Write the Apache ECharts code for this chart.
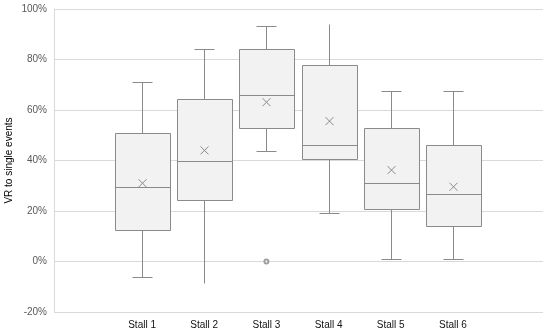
<!DOCTYPE html>
<html>
<head>
<meta charset="utf-8">
<script src="https://cdn.jsdelivr.net/npm/echarts@6/dist/echarts.min.js"></script>
<style>html,body{margin:0;padding:0;background:#fff}#c{width:550px;height:336px}</style>
</head>
<body>
<div id="c"></div>
<script>
const categories = ['Stall 1', 'Stall 2', 'Stall 3', 'Stall 4', 'Stall 5', 'Stall 6'];
const minValues    = [-0.06, -0.085, 0.438, 0.194, 0.009, 0.009];
const q1Values     = [0.124, 0.244, 0.528, 0.407, 0.207, 0.141];
const medianValues = [0.295, 0.397, 0.658, 0.460, 0.310, 0.269];
const q3Values     = [0.507, 0.642, 0.843, 0.779, 0.530, 0.462];
const maxValues    = [0.710, 0.843, 0.934, 0.942, 0.676, 0.676];
const meanValues   = [0.310, 0.440, 0.631, 0.556, 0.362, 0.296];
const outliers     = [[2, 0.0]];
const yTicks = [-0.2, 0, 0.2, 0.4, 0.6, 0.8, 1.0];

const noCapTop = new Set([3]);
const noCapBottom = new Set([1]);
const C = '#8a8a8a';
const FONT = 'Liberation Sans, Arial, sans-serif';

const boxData = categories.map((c, i) => [i, minValues[i], q1Values[i], medianValues[i], q3Values[i], maxValues[i], meanValues[i]]);

function px(v) { return Math.round(v) + 0.5; }

function renderItem(params, api) {
  const i = api.value(0);
  const band = api.size([1, 0])[0];
  const cx = px(api.coord([i, 0])[0]);
  const half = band * 0.45;
  const cap = 10;
  const y = k => px(api.coord([i, api.value(k)])[1]);
  const yMin = y(1), yQ1 = y(2), yMed = y(3), yQ3 = y(4), yMax = y(5), yMean = api.coord([i, api.value(6)])[1];
  const x0 = px(cx - half), x1 = px(cx + half);
  const ls = { stroke: C, lineWidth: 1, fill: null };
  const ch = [];
  ch.push({ type: 'line', shape: { x1: cx, y1: yQ3, x2: cx, y2: yMax }, style: ls });
  ch.push({ type: 'line', shape: { x1: cx, y1: yQ1, x2: cx, y2: yMin }, style: ls });
  if (!noCapTop.has(i)) ch.push({ type: 'line', shape: { x1: cx - cap, y1: yMax, x2: cx + cap, y2: yMax }, style: ls });
  if (!noCapBottom.has(i)) ch.push({ type: 'line', shape: { x1: cx - cap, y1: yMin, x2: cx + cap, y2: yMin }, style: ls });
  ch.push({ type: 'rect', shape: { x: x0, y: yQ3, width: x1 - x0, height: yQ1 - yQ3 }, style: { fill: '#f2f2f2', stroke: C, lineWidth: 1 } });
  ch.push({ type: 'line', shape: { x1: x0, y1: yMed, x2: x1, y2: yMed }, style: ls });
  const m = 4;
  ch.push({ type: 'line', shape: { x1: cx - m, y1: yMean - m, x2: cx + m, y2: yMean + m }, style: ls });
  ch.push({ type: 'line', shape: { x1: cx - m, y1: yMean + m, x2: cx + m, y2: yMean - m }, style: ls });
  return { type: 'group', children: ch };
}

const chart = echarts.init(document.getElementById('c'), null, { renderer: 'canvas' });
chart.setOption({
  animation: false,
  backgroundColor: '#fff',
  grid: [
    { left: 54, right: 7, top: 9, height: 303, containLabel: false, outerBoundsMode: 'none' },
    { left: 111, right: 66, top: 9, height: 303, containLabel: false, outerBoundsMode: 'none' }
  ],
  xAxis: [
    { gridIndex: 0, type: 'value', show: false, min: 0, max: 1 },
    { gridIndex: 1, type: 'category', data: categories, boundaryGap: true,
      axisLine: { show: false }, axisTick: { show: false }, splitLine: { show: false },
      axisLabel: { margin: 8, color: '#111', fontSize: 10, fontFamily: FONT } }
  ],
  yAxis: [
    { gridIndex: 0, type: 'value', min: yTicks[0], max: yTicks[yTicks.length - 1], interval: 0.2,
      axisLine: { show: true, lineStyle: { color: '#d9d9d9' } }, axisTick: { show: false },
      splitLine: { show: true, lineStyle: { color: '#d9d9d9', width: 1 } },
      axisLabel: { margin: 7, color: '#595959', fontSize: 10, fontFamily: FONT,
        formatter: v => Math.round(v * 100) + '%' },
      name: 'VR to single events', nameLocation: 'middle', nameGap: 40, nameRotate: 90,
      nameMoveOverlap: false,
      nameTextStyle: { color: '#000', fontSize: 10, fontFamily: FONT } },
    { gridIndex: 1, type: 'value', min: yTicks[0], max: yTicks[yTicks.length - 1], show: false }
  ],
  series: [
    { type: 'custom', xAxisIndex: 1, yAxisIndex: 1, renderItem: renderItem, data: boxData,
      encode: { x: 0, y: [1, 2, 3, 4, 5, 6] }, z: 2 },
    { type: 'scatter', xAxisIndex: 1, yAxisIndex: 1, data: outliers, symbol: 'emptyCircle', symbolSize: 4,
      itemStyle: { color: C, borderColor: C, borderWidth: 1 }, z: 3 }
  ]
});
</script>
</body>
</html>
